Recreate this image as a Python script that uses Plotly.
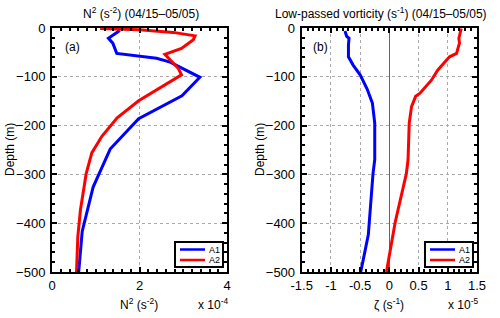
import plotly.graph_objects as go

# ---- Data ----
# Panel (a): N^2 in units of 1e-4 s^-2 vs depth (m)
n2_depth_a1 = [5, 21, 31, 52, 62, 70, 101, 139, 186, 248, 326, 417, 500]
n2_a1 = [1.55, 1.29, 1.39, 1.48, 2.39, 2.70, 3.38, 2.97, 1.98, 1.33, 0.94, 0.69, 0.61]
n2_depth_a2 = [1, 3.5, 9, 16, 24, 42, 54, 83, 96, 149, 184, 222, 256, 299, 373, 428, 500]
n2_a2 = [1.10, 2.00, 2.77, 3.27, 3.23, 2.96, 2.58, 2.89, 2.96, 1.98, 1.49, 1.14, 0.91, 0.78, 0.65, 0.59, 0.56]

# Panel (b): low-passed vorticity in units of 1e-5 s^-1 vs depth (m)
vo_depth_a1 = [6, 17, 21, 35, 59, 76, 96, 125, 154, 195, 270, 299, 424, 500]
vo_a1 = [-0.76, -0.73, -0.69, -0.70, -0.70, -0.62, -0.50, -0.38, -0.29, -0.25, -0.25, -0.28, -0.36, -0.49]
vo_depth_a2 = [1, 21, 31, 42, 52, 59, 69, 86, 107, 134, 140, 161, 195, 270, 299, 398, 500]
vo_a2 = [1.23, 1.19, 1.20, 1.17, 1.15, 1.03, 0.95, 0.83, 0.72, 0.52, 0.45, 0.38, 0.34, 0.32, 0.29, 0.10, -0.05]

series_names = ["A1", "A2"]
series_colors = ["blue", "red"]

FONT = "Liberation Sans"
W, H = 500, 318

fig = go.Figure()
for name, color, xs, ds in [
    (series_names[0], series_colors[0], n2_a1, n2_depth_a1),
    (series_names[1], series_colors[1], n2_a2, n2_depth_a2),
]:
    fig.add_trace(go.Scatter(x=xs, y=[-d for d in ds], mode="lines", name=name,
                             line=dict(color=color, width=3), xaxis="x", yaxis="y",
                             showlegend=False))
for name, color, xs, ds in [
    (series_names[0], series_colors[0], vo_a1, vo_depth_a1),
    (series_names[1], series_colors[1], vo_a2, vo_depth_a2),
]:
    fig.add_trace(go.Scatter(x=xs, y=[-d for d in ds], mode="lines", name=name,
                             line=dict(color=color, width=3), xaxis="x2", yaxis="y2",
                             showlegend=False))

def ax(**kw):
    d = dict(showline=True, linecolor="black", linewidth=2, mirror="allticks",
             ticks="inside", ticklen=5, tickwidth=1.5, tickcolor="black",
             showgrid=True, gridcolor="#aaaaaa", griddash="dot", gridwidth=1,
             zeroline=False, automargin=False,
             tickfont=dict(size=13, color="black", family=FONT))
    d.update(kw)
    return d

xl0, xl1 = 52 / W, 227 / W
xr0, xr1 = 301.7 / W, 477 / W
y0, y1 = (H - 272) / H, (H - 28) / H

fig.update_layout(
    width=W, height=H, margin=dict(l=0, r=0, t=0, b=0, autoexpand=False),
    paper_bgcolor="white", plot_bgcolor="white",
    font=dict(family=FONT, color="black", size=12),
    showlegend=False,
    xaxis=ax(domain=[xl0, xl1], range=[0, 4], tickvals=[0, 2, 4], anchor="y",
             minor=dict(ticks="inside", ticklen=3, tickcolor="black", dtick=0.2, showgrid=False)),
    yaxis=ax(domain=[y0, y1], range=[-500, 0], dtick=100, anchor="x", ticklabelstandoff=2,
             minor=dict(ticks="inside", ticklen=3, tickcolor="black", dtick=20, showgrid=False)),
    xaxis2=ax(domain=[xr0, xr1], range=[-1.5, 1.5], dtick=0.5, anchor="y2",
              zeroline=True, zerolinecolor="#666666", zerolinewidth=1,
              tickvals=[-1.5, -1, -0.5, 0, 0.5, 1, 1.5],
              ticktext=["-1.5", "-1", "-0.5", "0", "0.5", "1", "1.5"],
              minor=dict(ticks="inside", ticklen=3, tickcolor="black", dtick=0.1, showgrid=False)),
    yaxis2=ax(domain=[y0, y1], range=[-500, 0], dtick=100, anchor="x2", ticklabelstandoff=2,
              minor=dict(ticks="inside", ticklen=3, tickcolor="black", dtick=20, showgrid=False)),
)

def ann(text, x, y, size=12, **kw):
    d = dict(text=text, x=x / W, y=1 - y / H, xref="paper", yref="paper",
             showarrow=False, font=dict(size=size, family=FONT, color="black"),
             xanchor="center", yanchor="middle")
    d.update(kw)
    fig.add_annotation(**d)

ann("N<sup>2</sup> (s<sup>-2</sup>) (04/15\u201305/05)", 141, 13, size=12)
ann("Low-passed vorticity (s<sup>-1</sup>) (04/15\u201305/05)", 381, 13, size=12)
ann("(a)", 72, 47)
ann("(b)", 320, 47)
ann("N<sup>2</sup> (s<sup>-2</sup>)", 139, 304)
ann("x 10<sup>-4</sup>", 213, 304)
ann("\u03b6 (s<sup>-1</sup>)", 389, 304)
ann("x 10<sup>-5</sup>", 463, 304)
ann("Depth (m)", 10, 150, textangle=-90)
ann("Depth (m)", 260, 150, textangle=-90)

# Legend boxes (one per panel), drawn in paper coordinates
def legend_box(xoff):
    bx0, bx1, by0, by1 = 175 + xoff, 223 + xoff, 242, 267
    fig.add_shape(type="rect", xref="paper", yref="paper",
                  x0=bx0 / W, x1=bx1 / W, y0=1 - by1 / H, y1=1 - by0 / H,
                  line=dict(color="black", width=2), fillcolor="white", layer="above")
    for i, (name, color) in enumerate(zip(series_names, series_colors)):
        yy = 249.5 + i * 10.5
        fig.add_shape(type="line", xref="paper", yref="paper",
                      x0=(180 + xoff) / W, x1=(205 + xoff) / W, y0=1 - yy / H, y1=1 - yy / H,
                      line=dict(color=color, width=2.5), layer="above")
        ann(name, 207 + xoff, yy, size=9, xanchor="left")

legend_box(0)
legend_box(250)

fig.write_html("out.html", config={"displayModeBar": False},
               post_script="document.body.style.margin='0px';")
